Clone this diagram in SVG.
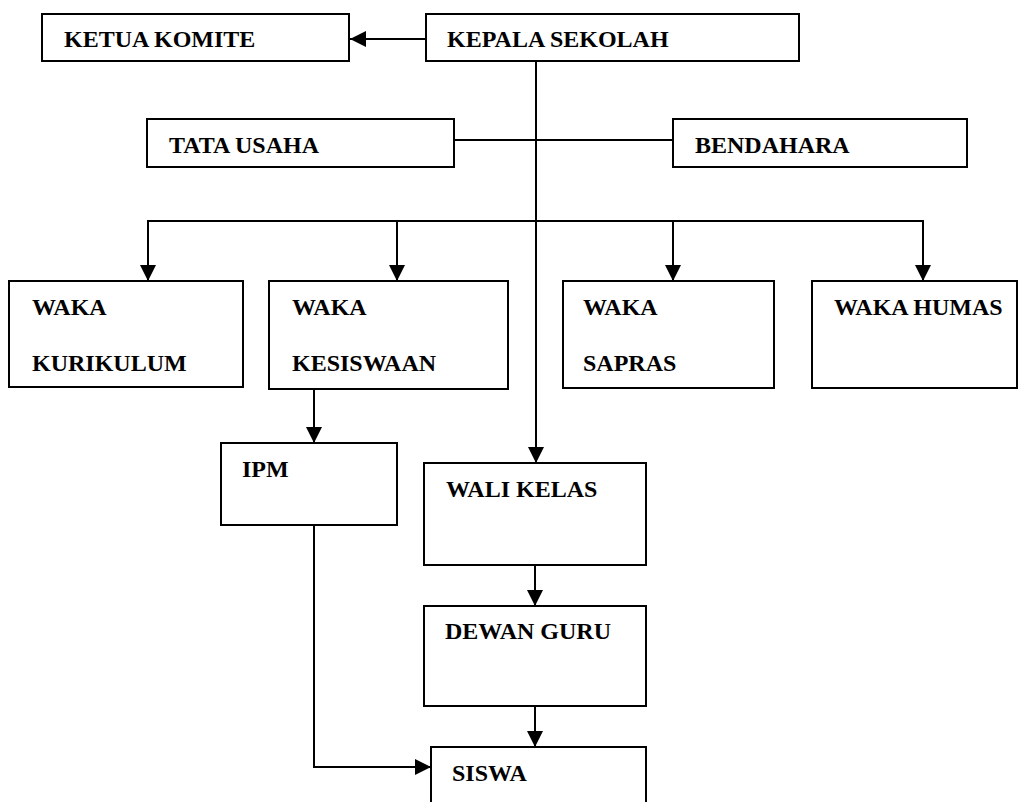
<svg xmlns="http://www.w3.org/2000/svg" width="1023" height="802" viewBox="0 0 1023 802">
<style>
.box{fill:#fff;stroke:#000;stroke-width:2}
.t{font-family:"Liberation Serif","Times New Roman",serif;font-weight:bold;font-size:24px;fill:#000}
.c{fill:none;stroke:#000;stroke-width:2}
</style>
<defs>
<marker id="ah" markerUnits="userSpaceOnUse" markerWidth="16" markerHeight="16" viewBox="0 0 16 16" refX="16" refY="8" orient="auto">
<path d="M0,0 L16,8 L0,16 Z" fill="#000"/>
</marker>
</defs>
<rect width="1023" height="802" fill="#fff"/>
<g id="connectors">
<line class="c" x1="426" y1="39" x2="350" y2="39" marker-end="url(#ah)"/>
<line class="c" x1="536" y1="61" x2="536" y2="463" marker-end="url(#ah)"/>
<line class="c" x1="454" y1="140" x2="673" y2="140"/>
<line class="c" x1="147" y1="221" x2="924" y2="221"/>
<line class="c" x1="148" y1="220" x2="148" y2="281" marker-end="url(#ah)"/>
<line class="c" x1="397" y1="220" x2="397" y2="281" marker-end="url(#ah)"/>
<line class="c" x1="673" y1="220" x2="673" y2="281" marker-end="url(#ah)"/>
<line class="c" x1="923" y1="220" x2="923" y2="281" marker-end="url(#ah)"/>
<line class="c" x1="314" y1="389" x2="314" y2="443" marker-end="url(#ah)"/>
<line class="c" x1="535" y1="565" x2="535" y2="606" marker-end="url(#ah)"/>
<line class="c" x1="535" y1="706" x2="535" y2="747" marker-end="url(#ah)"/>
<polyline class="c" points="314,525 314,767 431,767" marker-end="url(#ah)"/>
</g>
<g id="ketua-komite"><rect class="box" x="42" y="14" width="307" height="47"/><text class="t" x="64" y="47">KETUA KOMITE</text></g>
<g id="kepala-sekolah"><rect class="box" x="426" y="14" width="373" height="47"/><text class="t" x="447" y="47">KEPALA SEKOLAH</text></g>
<g id="tata-usaha"><rect class="box" x="147" y="119" width="307" height="48"/><text class="t" x="169" y="153">TATA USAHA</text></g>
<g id="bendahara"><rect class="box" x="673" y="119" width="294" height="48"/><text class="t" x="695" y="153">BENDAHARA</text></g>
<g id="waka-kurikulum"><rect class="box" x="9" y="281" width="234" height="106"/><text class="t" x="32" y="315">WAKA</text><text class="t" x="32" y="371">KURIKULUM</text></g>
<g id="waka-kesiswaan"><rect class="box" x="269" y="281" width="239" height="108"/><text class="t" x="292" y="315">WAKA</text><text class="t" x="292" y="371">KESISWAAN</text></g>
<g id="waka-sapras"><rect class="box" x="563" y="281" width="211" height="107"/><text class="t" x="583" y="315">WAKA</text><text class="t" x="583" y="371">SAPRAS</text></g>
<g id="waka-humas"><rect class="box" x="812" y="281" width="205" height="107"/><text class="t" x="834" y="315">WAKA HUMAS</text></g>
<g id="ipm"><rect class="box" x="221" y="443" width="176" height="82"/><text class="t" x="242" y="477">IPM</text></g>
<g id="wali-kelas"><rect class="box" x="424" y="463" width="222" height="102"/><text class="t" x="446" y="497">WALI KELAS</text></g>
<g id="dewan-guru"><rect class="box" x="424" y="606" width="222" height="100"/><text class="t" x="445" y="639">DEWAN GURU</text></g>
<g id="siswa"><rect class="box" x="431" y="747" width="215" height="80"/><text class="t" x="452" y="781">SISWA</text></g>
</svg>
